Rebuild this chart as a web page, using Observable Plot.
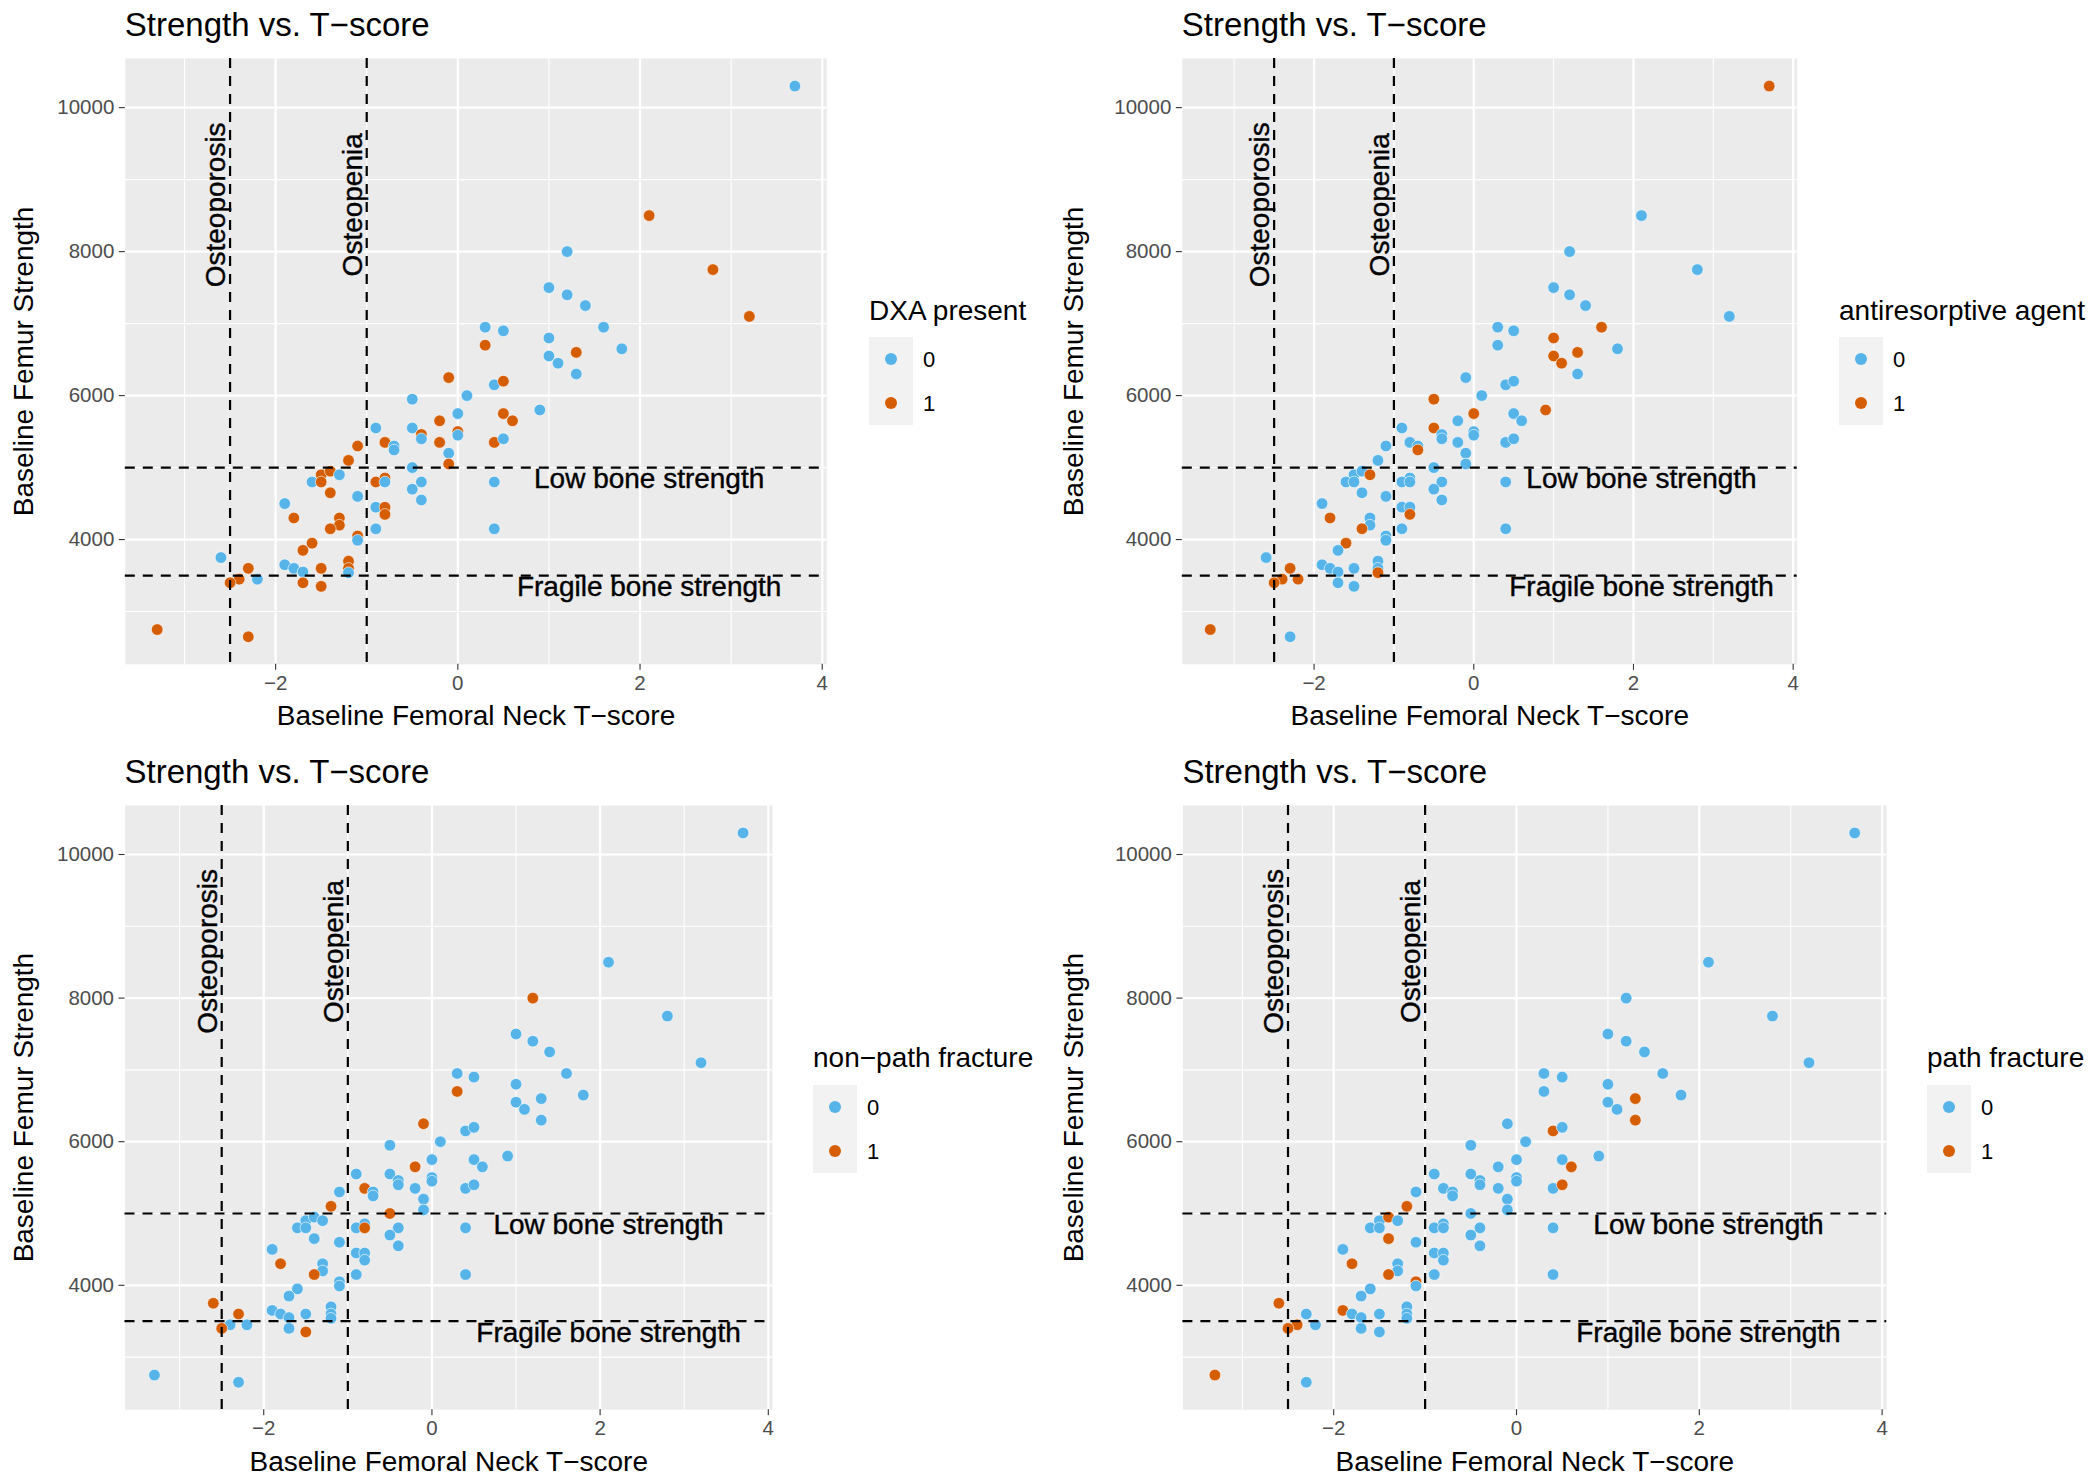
<!DOCTYPE html>
<html><head><meta charset="utf-8">
<script src="https://cdn.jsdelivr.net/npm/d3@7"></script>
<script src="https://cdn.jsdelivr.net/npm/@observablehq/plot@0.6"></script>
<style>
body{margin:0;background:#fff;}
#root{position:relative;width:2100px;height:1484px;font-family:"Liberation Sans",Arial,sans-serif;overflow:hidden;background:#fff;}
.ptitle{position:absolute;font-size:33px;line-height:1;color:#000;white-space:nowrap;}
.lgtitle{position:absolute;font-size:28px;line-height:1;color:#000;white-space:nowrap;}
.lgkey{position:absolute;width:44px;height:44px;background:#F2F2F2;}
.lgdot{position:absolute;left:16px;top:16px;width:12px;height:12px;border-radius:50%;}
.lglab{position:absolute;font-size:22px;line-height:1;color:#000;}
</style></head>
<body><div id="root"></div>
<script>
// ---- data ----
const tScore = [1.4,0.3,0.5,1.6,1.0,0.3,1.3,1.0,1.1,1.3,
  -0.1,0.4,0.5,0.1,-0.5,0.9,-0.2,0.0,0.5,0.6,
  -0.9,-0.5,-0.4,-0.4,0.0,0.0,-0.2,0.4,0.5,-0.8,
  -0.7,-0.7,-1.1,-0.1,-1.2,-0.1,-0.5,-1.5,-1.4,-1.3,
  -1.6,-1.5,-0.8,-0.9,-0.8,-0.4,0.4,-0.5,-1.4,-1.1,
  -0.4,-1.9,-0.9,-0.8,-0.8,-1.8,-1.3,-1.3,-1.4,-0.9,
  0.4,-1.1,-1.1,-1.6,-1.7,-2.6,-1.2,-1.9,-1.8,-1.7,
  -1.5,-1.2,-1.2,-2.3,-2.4,-2.5,-2.2,-1.7,-1.5,-3.3,
  -2.3,3.7,2.1,1.2,2.8,1.0,1.2,3.2,1.8];
const strength = [7250,6950,6900,6950,6800,6700,6600,6550,6450,6300,
  6250,6150,6200,6000,5950,5800,5650,5750,5750,5650,
  5550,5550,5460,5400,5500,5450,5350,5350,5400,5350,
  5300,5245,5300,5200,5100,5050,5000,4900,4950,4900,
  4800,4800,4855,4800,4800,4800,4800,4700,4650,4600,
  4550,4500,4450,4450,4350,4300,4300,4200,4150,4150,
  4150,4050,3990,3950,3850,3750,3700,3650,3600,3550,
  3600,3600,3540,3600,3450,3400,3450,3400,3350,2750,
  2650,10300,8500,8000,7750,7500,7400,7100,6650];
const dxaPresent = [0,0,0,0,0,1,1,0,0,0, 1,0,1,0,0,0,1,0,1,1, 0,0,1,0,1,0,1,1,0,1,
  0,0,1,0,1,1,0,1,1,0, 0,1,1,1,0,0,0,0,1,0, 0,0,0,1,1,1,1,1,1,0,
  0,1,0,1,1,0,1,0,0,0, 1,1,0,1,1,1,0,1,1,1, 1,0,1,0,1,0,0,1,0];
const antiresorptive = [0,0,0,1,1,0,1,1,1,0, 0,0,0,0,1,1,0,1,0,0, 0,1,0,0,0,0,0,0,0,0,
  0,1,0,0,0,0,0,0,0,1, 0,0,0,0,0,0,0,0,0,0, 0,0,0,0,1,1,0,0,1,0,
  0,0,0,1,0,0,0,0,0,0, 0,0,1,1,1,1,1,0,0,1, 0,1,0,0,0,0,0,0,0];
const nonPathFracture = [0,0,0,0,0,1,0,0,0,0, 1,0,0,0,0,0,1,0,0,0, 0,0,0,0,0,0,0,0,0,1,
  0,0,0,0,1,0,1,0,0,0, 0,0,0,0,1,0,0,0,0,0, 0,0,0,0,0,1,0,0,1,0,
  0,0,0,0,0,1,0,0,0,0, 0,0,0,1,0,1,0,0,1,0, 0,0,0,1,0,0,0,0,0];
const pathFracture = [0,0,0,0,0,0,1,0,0,1, 0,1,0,0,0,0,0,0,0,1, 0,0,0,0,0,0,0,0,1,0,
  0,0,0,0,1,0,0,0,1,0, 0,0,0,0,0,0,0,0,1,0, 0,0,0,0,0,1,0,0,1,0,
  0,1,0,0,0,1,0,1,0,0, 0,0,0,0,1,1,0,0,0,1, 0,0,0,0,0,0,0,0,0];
const groupLevels = [0, 1];
const xTicks = [-2, 0, 2, 4];
const xMinor = [-3, -1, 1, 3];
const yTicks = [4000, 6000, 8000, 10000];
const yMinor = [3000, 5000, 7000, 9000];
const tScoreCutoffs = [-2.5, -1];
const strengthCutoffs = [5000, 3500];
const zoneLabels = ["Osteoporosis", "Osteopenia"];
const zoneLabelX = [-2.5, -1];
const zoneLabelY = [8650, 8650];
const strengthLabels = ["Low bone strength", "Fragile bone strength"];
const strengthLabelX = [2.1, 2.1];
const strengthLabelY = [4843, 3336];
const legendTitles = ["DXA present", "antiresorptive agent", "non\u2212path fracture", "path fracture"];
const groupSeries = [dxaPresent, antiresorptive, nonPathFracture, pathFracture];

// ---- layout (page pixels) ----
const blue = "#56B4E9", orange = "#D55E00";
const layout = [
  {L:124.8, R:826.3, T:57.6, B:663.4, svgLeft:0, legendX:869},
  {L:1181.8, R:1796.7, T:57.6, B:663.4, svgLeft:1050, legendX:1839},
  {L:124.5, R:772, T:805.2, B:1409.4, svgLeft:0, legendX:813},
  {L:1182.4, R:1886.2, T:805.2, B:1409.4, svgLeft:1050, legendX:1927}
];

const [xmin, xmax] = d3.extent(tScore), xpad = (xmax - xmin) * 0.05;
const [ymin, ymax] = d3.extent(strength), ypad = (ymax - ymin) * 0.05;
const xDomain = [xmin - xpad, xmax + xpad];
const yDomain = [ymin - ypad, ymax + ypad];
const fmt = d => d < 0 ? "\u2212" + (-d) : String(d);
const font = "Liberation Sans, Arial, sans-serif";
const root = document.getElementById("root");

const zoneData = zoneLabels.map((s, i) => ({s, x: zoneLabelX[i], y: zoneLabelY[i]}));
const strData = strengthLabels.map((s, i) => ({s, x: strengthLabelX[i], y: strengthLabelY[i]}));

layout.forEach((p, k) => {
  const grp = groupSeries[k];
  const data = tScore.map((t, i) => ({t, s: strength[i], g: grp[i]}));
  const mt = 14, mb = 86;
  const svgTop = p.T - mt;
  const width = p.R - p.svgLeft + 12;
  const height = mt + (p.B - p.T) + mb;
  const svg = Plot.plot({
    width, height,
    marginLeft: p.L - p.svgLeft, marginRight: 12, marginTop: mt, marginBottom: mb,
    style: {fontFamily: font, background: "transparent", overflow: "visible"},
    x: {domain: xDomain},
    y: {domain: yDomain},
    color: {type: "ordinal", domain: groupLevels, range: [blue, orange]},
    marks: [
      Plot.frame({fill: "#EBEBEB", stroke: "none"}),
      Plot.ruleX(xMinor, {stroke: "white", strokeWidth: 1.1}),
      Plot.ruleY(yMinor, {stroke: "white", strokeWidth: 1.1}),
      Plot.ruleX(xTicks, {stroke: "white", strokeWidth: 2.2}),
      Plot.ruleY(yTicks, {stroke: "white", strokeWidth: 2.2}),
      Plot.dot(data, {x: "t", y: "s", fill: "g", r: 5.8, stroke: "white", strokeWidth: 0.6}),
      Plot.ruleX(tScoreCutoffs, {stroke: "black", strokeWidth: 2.2, strokeDasharray: "10,8"}),
      Plot.ruleY(strengthCutoffs, {stroke: "black", strokeWidth: 2.2, strokeDasharray: "10,8"}),
      Plot.text(zoneData, {x: "x", y: "y", text: "s", rotate: -90, dx: -14, fontSize: 28, fill: "black", stroke: "black", strokeWidth: 0.4}),
      Plot.text(strData, {x: "x", y: "y", text: "s", fontSize: 28, fill: "black", stroke: "black", strokeWidth: 0.4}),
      Plot.axisX(xTicks, {anchor: "bottom", tickSize: 6, tickPadding: 5, fontSize: 20.5, stroke: "#333333", fill: "#4D4D4D", strokeWidth: 1.1, label: null, tickFormat: fmt}),
      Plot.axisY(yTicks, {anchor: "left", tickSize: 6, tickPadding: 5, fontSize: 20.5, stroke: "#333333", fill: "#4D4D4D", strokeWidth: 1.1, label: null, tickFormat: fmt}),
      Plot.text(["Baseline Femoral Neck T\u2212score"], {frameAnchor: "bottom", dy: 52, lineAnchor: "middle", textAnchor: "middle", text: d => d, fontSize: 28, fill: "black"}),
      Plot.text(["Baseline Femur Strength"], {frameAnchor: "left", dx: -(p.L - (p.svgLeft + 24)), rotate: -90, textAnchor: "middle", lineAnchor: "middle", text: d => d, fontSize: 28, fill: "black"})
    ]
  });
  svg.style.position = "absolute";
  svg.style.left = p.svgLeft + "px";
  svg.style.top = svgTop + "px";
  root.appendChild(svg);

  const title = document.createElement("div");
  title.className = "ptitle";
  title.textContent = "Strength vs. T\u2212score";
  title.style.left = p.L + "px";
  title.style.top = (p.T - 50) + "px";
  root.appendChild(title);

  const lt = document.createElement("div");
  lt.className = "lgtitle";
  lt.textContent = legendTitles[k];
  lt.style.left = p.legendX + "px";
  lt.style.top = (p.T + 239) + "px";
  root.appendChild(lt);
  groupLevels.forEach((lv, j) => {
    const key = document.createElement("div");
    key.className = "lgkey";
    key.style.left = p.legendX + "px";
    key.style.top = (p.T + 279.4 + 44 * j) + "px";
    const dot = document.createElement("div");
    dot.className = "lgdot";
    dot.style.background = lv === 0 ? blue : orange;
    key.appendChild(dot);
    root.appendChild(key);
    const lab = document.createElement("div");
    lab.className = "lglab";
    lab.textContent = String(lv);
    lab.style.left = (p.legendX + 54) + "px";
    lab.style.top = (p.T + 279.4 + 44 * j + 12) + "px";
    root.appendChild(lab);
  });
});
</script></body></html>
